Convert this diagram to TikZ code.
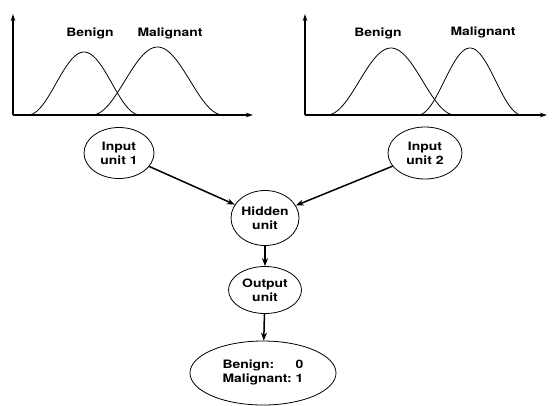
\documentclass[tikz,border=0pt]{standalone}
\usepackage{fontspec}
\setmainfont{TeX Gyre Heros}[FakeStretch=1.2]
\usetikzlibrary{shapes.geometric,arrows.meta}
\begin{document}
\begin{tikzpicture}[x=1pt,y=-1pt,
	txt/.style={font=\fontsize{11.6}{14}\selectfont\bfseries},
	unit/.style={txt,draw,shape=ellipse,inner sep=0pt,align=center,line width=0.8pt},
	link/.style={-{Stealth[length=8pt,width=6pt]},line width=1.5pt},
	axis/.style={-{Stealth[length=7pt,width=4.5pt]},line width=1.1pt}]
\useasboundingbox (0,0) rectangle (553,405);
% the two input distributions
\foreach \o/\t in {13/253,305/547}{
	\draw[axis] (\o,115)--(\o,14);
	\draw[axis] (\o,115)--(\t,115);
};
\foreach \a/\b/\h in {28/140/63,92/223/68,327/455/67,418/522/67}{
	\draw[line width=0.8pt] plot[domain=0:1,samples=50,smooth]
		({\a+(\b-\a)*\x},{115-\h*(1-cos(360*\x))/2});
};
\foreach \x/\y/\s/\n in {90/33/Benign/b1,170/33/Malignant/m1,378/33/Benign/b2,483/32/Malignant/m2}{
	\node[txt,name=\n] at (\x,\y){\s};
};
% the network
\node[unit,minimum width=70pt,minimum height=51pt,name=in1] at (119,153){Input\\unit 1};
\node[unit,minimum width=74pt,minimum height=52pt,name=in2] at (425,153){Input\\unit 2};
\node[unit,minimum width=68pt,minimum height=55pt,name=hid] at (265,218){Hidden\\unit};
\node[unit,minimum width=73pt,minimum height=47pt,name=out] at (265,290){Output\\unit};
\node[unit,minimum width=146pt,minimum height=64pt,name=res] at (263,373){%
	\begin{tabular}{@{}l@{\ }r@{}}Benign:&0\\Malignant:&1\end{tabular}};
\draw[link] (in1)--(hid);
\draw[link] (in2)--(hid);
\draw[link] (hid)--(out);
\draw[link] (out)--(res);
\end{tikzpicture}
\end{document}
